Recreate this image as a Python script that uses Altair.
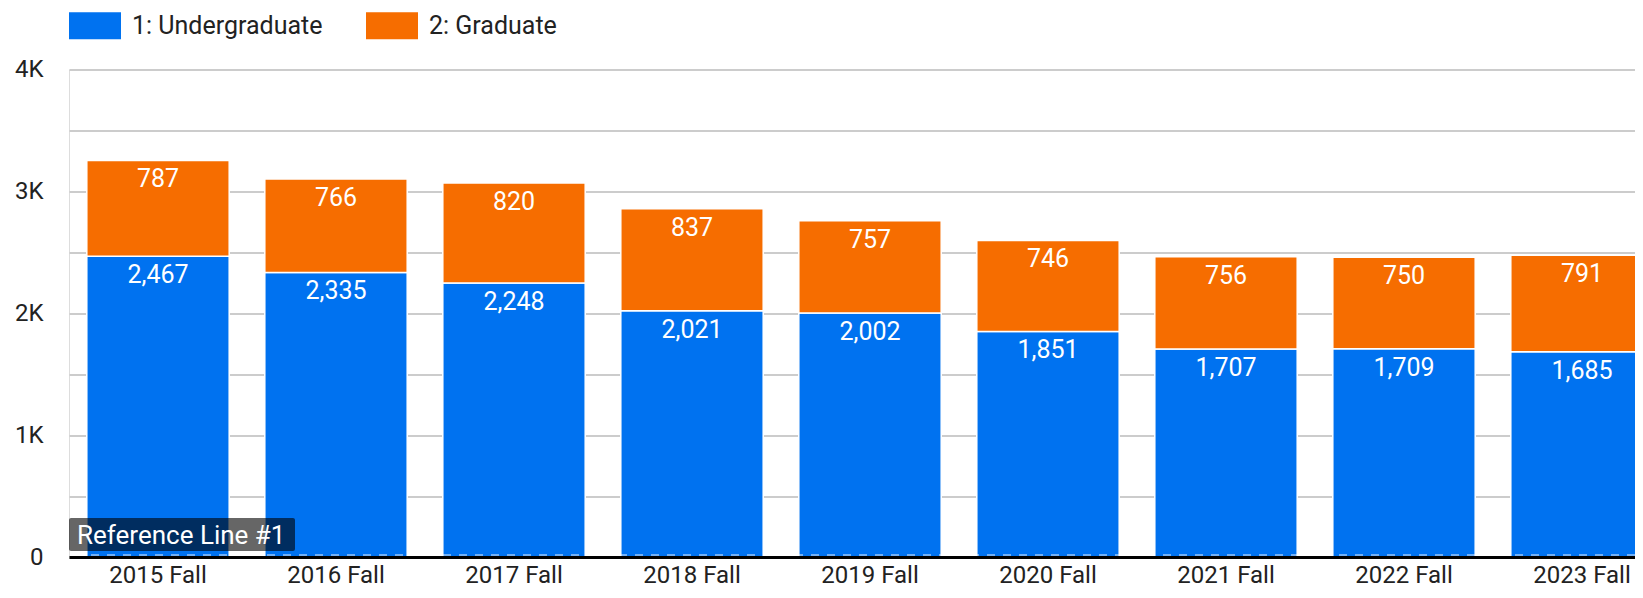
import altair as alt
import pandas as pd

terms = ["2015 Fall", "2016 Fall", "2017 Fall", "2018 Fall", "2019 Fall",
         "2020 Fall", "2021 Fall", "2022 Fall", "2023 Fall"]
undergrad = [2467, 2335, 2248, 2021, 2002, 1851, 1707, 1709, 1685]
graduate = [787, 766, 820, 837, 757, 746, 756, 750, 791]
levels = ["1: Undergraduate", "2: Graduate"]
colors = ["#0072f0", "#f66d00"]
y_ticks = [0, 500, 1000, 1500, 2000, 2500, 3000, 3500, 4000]

rows = []
for t, u, g in zip(terms, undergrad, graduate):
    rows.append({"term": t, "level": levels[0], "value": u, "order": 1})
    rows.append({"term": t, "level": levels[1], "value": g, "order": 2})
df = pd.DataFrame(rows)

FONT = "Roboto"
X_RANGE = [0, 1602]

x_scale = alt.Scale(domain=terms, range=X_RANGE, paddingInner=0.2, paddingOuter=0.1)
y_scale = alt.Scale(domain=[0, 4000], nice=False)

x_enc = alt.X("term:N", sort=terms, title=None, scale=x_scale,
              axis=alt.Axis(labelAngle=0, labelFontSize=24, labelColor="#222222",
                            labelFont=FONT, ticks=False, labelPadding=6, grid=False,
                            domainColor="#000000", domainWidth=3, zindex=1))

base = alt.Chart(df)

bars = base.mark_bar(stroke="white", strokeWidth=1.5).encode(
    x=x_enc,
    y=alt.Y("value:Q", stack="zero", title=None, scale=y_scale,
            axis=alt.Axis(values=y_ticks,
                          labelExpr="datum.value == 0 ? '0' : (datum.value % 1000 == 0 ? (datum.value / 1000) + 'K' : '')",
                          labelFontSize=24, labelFont=FONT, labelColor="#222222",
                          ticks=False, domain=False, labelPadding=26,
                          gridColor="#cccccc", gridWidth=2)),
    color=alt.Color("level:N", scale=alt.Scale(domain=levels, range=colors),
                    legend=alt.Legend(title=None, orient="none", direction="horizontal",
                                      legendX=0, legendY=-70, padding=0,
                                      symbolType="M-1,-0.52H1V0.52H-1Z", symbolSize=2704,
                                      symbolStrokeWidth=0, symbolOpacity=1,
                                      labelFontSize=25, labelFont=FONT, labelColor="#222222",
                                      labelLimit=0, labelOffset=11, columnPadding=43)),
    order=alt.Order("order:Q"),
)

labels = base.transform_stack(
    stack="value", groupby=["term"], sort=[alt.SortField("order")], as_=["y0", "y1"]
).mark_text(color="white", fontSize=25, font=FONT, baseline="alphabetic", dy=27).encode(
    x=alt.X("term:N", sort=terms, scale=x_scale, title=None),
    y=alt.Y("y1:Q", scale=y_scale, title=None),
    text=alt.Text("value:Q", format=",d"),
)

ref_rule = alt.Chart(pd.DataFrame({"ref": [0]})).mark_rule(
    color="white", strokeWidth=1.5, strokeDash=[8, 8], opacity=0.6, yOffset=-2
).encode(y=alt.Y("ref:Q", scale=y_scale, title=None))

ref_box = alt.Chart(pd.DataFrame({"ref": [0]})).mark_rect(
    color="black", opacity=0.6, cornerRadius=2
).encode(x=alt.value(0), x2=alt.value(226), y=alt.value(448.5), y2=alt.value(481.5))

ref_text = alt.Chart(pd.DataFrame({"label": ["Reference Line #1"]})).mark_text(
    color="white", fontSize=26, font=FONT, align="left", baseline="alphabetic"
).encode(x=alt.value(8), y=alt.value(474), text="label:N")

chart = alt.layer(bars, labels, ref_rule, ref_box, ref_text).properties(
    width=1566, height=487.5,
    padding={"left": 61, "top": 61.5, "right": 0, "bottom": 33},
    autosize=alt.AutoSizeParams(type="none"),
).configure_view(strokeWidth=0, stroke="transparent").configure(font=FONT)

chart.save("out.html", embed_options={"renderer": "svg", "actions": False})
